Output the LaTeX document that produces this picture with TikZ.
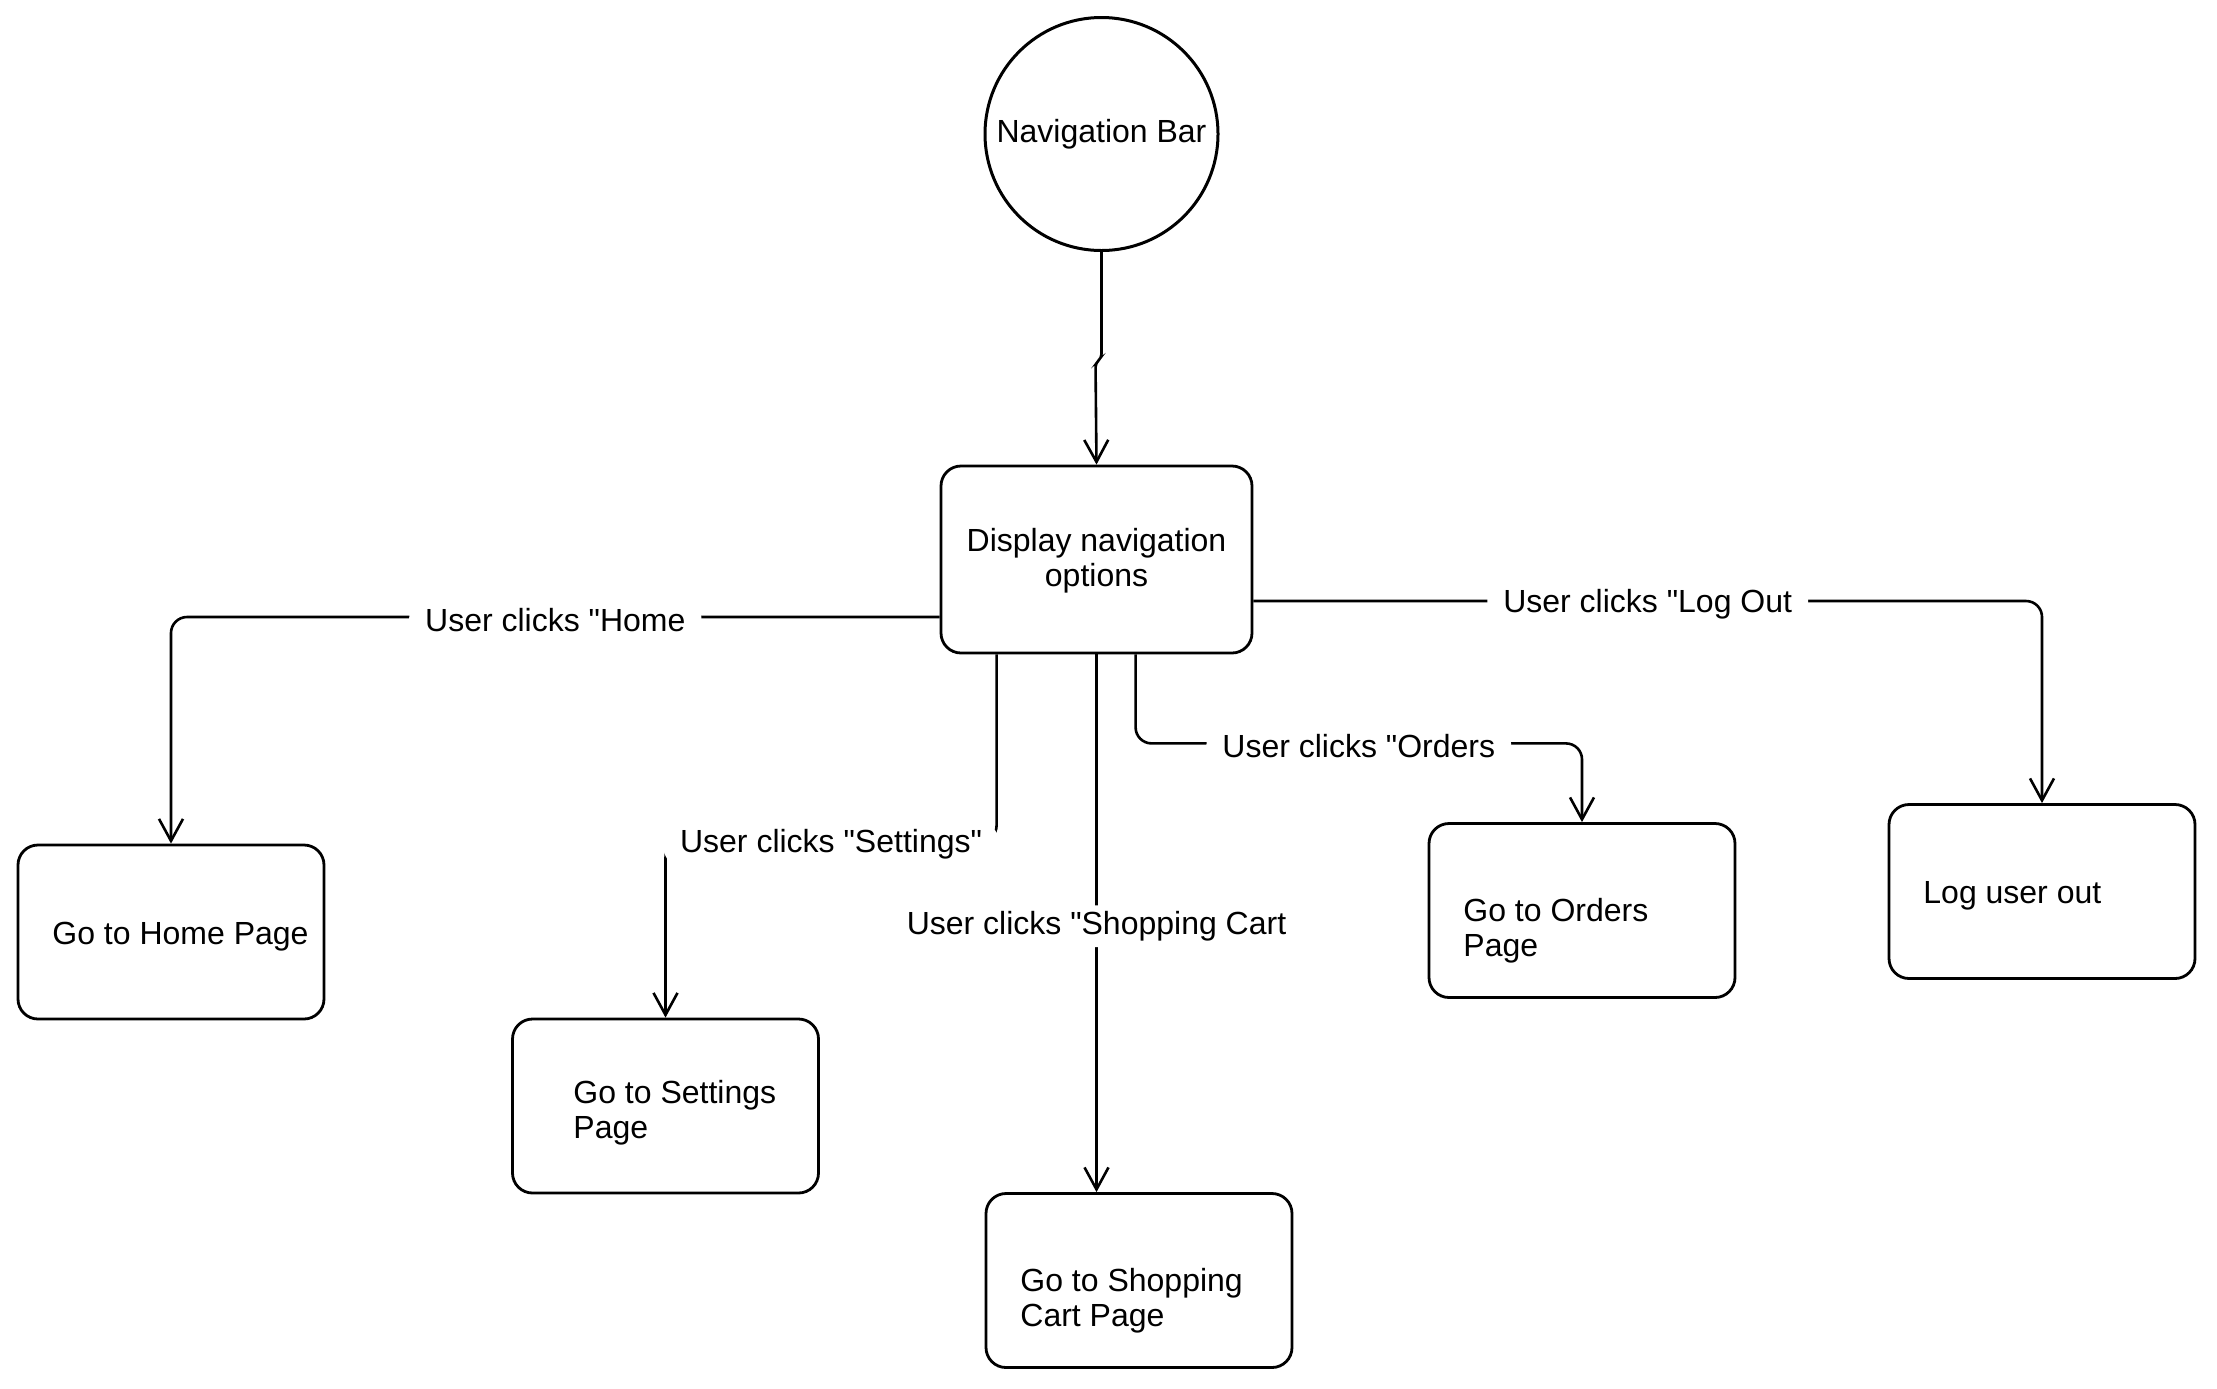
\documentclass[tikz,border=0pt]{standalone}
\usepackage{fontspec}
\setmainfont{Liberation Sans}
\usetikzlibrary{arrows.meta,calc}
\newcommand\dq{\textquotedbl}
\begin{document}
\begin{tikzpicture}[x=0.5pt,y=-0.5pt,
  font=\fontsize{16pt}{17.5pt}\selectfont,
  box/.style={draw, line width=1.4pt, rounded corners=10pt, minimum width=153pt, minimum height=87pt, inner sep=0pt},
  txt/.style={anchor=west, align=left, inner sep=0pt},
  edge/.style={draw, line width=1.3pt, rounded corners=8pt, -{Straight Barb[length=11pt,width=12pt,line width=1.3pt]}},
  lbl/.style={fill=white, inner xsep=8pt, inner ysep=3pt, yshift=-1.5pt}
]
\useasboundingbox (0,0) rectangle (2217,1388);
\fill[white] (0,0) rectangle (2217,1388);

\node[circle, draw, line width=1.5pt, minimum size=116.5pt, inner sep=0pt] (nav) at (1101.5,134) {Navigation Bar};
\node[box, minimum width=155.5pt, minimum height=93.5pt, align=center, text depth=2pt] (display) at (1096.5,559.5) {Display navigation\\options};

\node[box] (home) at (171,932) {};
\node[txt] (hometxt) at (52,937) {Go to Home Page};
\node[box] (settings) at (665.5,1106) {};
\node[txt] (settingstxt) at (573,1113) {Go to Settings\\Page};
\node[box] (cart) at (1139,1280.5) {};
\node[txt] (carttxt) at (1020,1301) {Go to Shopping\\Cart Page};
\node[box] (orders) at (1582,910.5) {};
\node[txt] (orderstxt) at (1463,931) {Go to Orders\\Page};
\node[box] (logout) at (2042,891.5) {};
\node[txt] (logouttxt) at (1923,896) {Log user out};

\draw[edge, rounded corners=2pt] (nav.south) -- ++(0,106) -- ++(-6,5) -- (display.north);
\draw[edge] ($(display.west)+(0,57.5)$) -| node[lbl,pos=0.25]{User clicks \dq Home} (home.north);
\draw[edge] ($(display.south west)+(57,0)$) -- ++(0,187) -| node[lbl,pos=0.25]{User clicks \dq Settings\dq} (settings.north);
\draw[edge] (display.south) -- node[lbl]{User clicks \dq Shopping Cart} (display.south |- cart.north);
\draw[edge] ($(display.south west)+(196,0)$) -- ++(0,89) -| node[lbl,pos=0.25]{User clicks \dq Orders} (orders.north);
\draw[edge] ($(display.east)+(0,41.5)$) -| node[lbl,pos=0.25]{User clicks \dq Log Out} (logout.north);
\end{tikzpicture}
\end{document}
